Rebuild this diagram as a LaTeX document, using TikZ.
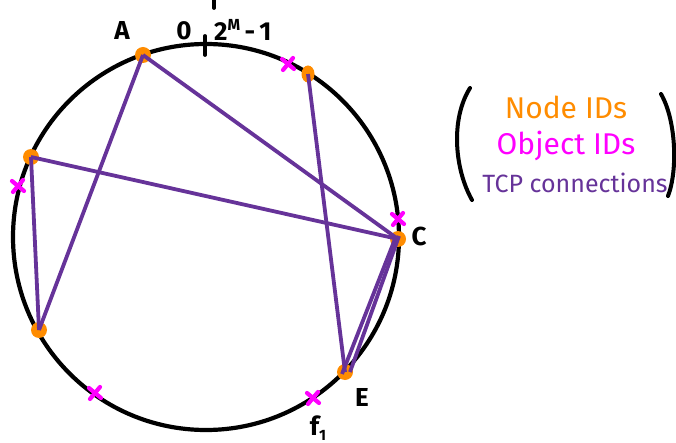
\documentclass[tikz,border=0pt]{standalone}
\usepackage{fontspec}
\usetikzlibrary{shapes.geometric}
\setmainfont{Fira Sans}
\definecolor{nodeor}{HTML}{FF8C00}
\definecolor{objmag}{HTML}{FF00FF}
\definecolor{tcppur}{HTML}{663399}
\begin{document}
\begin{tikzpicture}[x=1pt,y=-1pt,
  ring/.style={draw=black,line width=4.2pt},
  peer/.style={circle,fill=nodeor,inner sep=0pt,minimum size=16pt},
  conn/.style={draw=tcppur,line width=3.8pt},
  objx/.style={draw=objmag,line width=4.2pt,line cap=round},
  lbl/.style={font=\fontsize{26}{28}\selectfont\bfseries,inner sep=0pt},
  legend/.style={font=\fontsize{30}{32}\selectfont,inner sep=0pt}]
\useasboundingbox (0,0) rectangle (676,443);
% ring
\coordinate (ctr) at (206,237);
\draw[ring] (ctr) circle[radius=193];
% tick at 0 / 2^M-1
\coordinate (t1) at (205,36);
\coordinate (t2) at (205,55);
\draw[line width=3.8pt,line cap=round] (t1) -- (t2);
\coordinate (t3) at (214,0);
\coordinate (t4) at (214,8);
\draw[line width=3.8pt,line cap=round] (t3) -- (t4);
% peers
\node[peer] (A) at (143,55) {};
\node[fill=nodeor,inner sep=0pt,ellipse,minimum width=13pt,minimum height=17pt] (B) at (308,74) {};
\node[peer] (L1) at (31,157) {};
\node[peer] (C) at (398,239) {};
\node[peer] (L2) at (39,330) {};
\node[peer] (E) at (345,372) {};
% connections
\draw[conn] (A.center) -- (L2.center);
\draw[conn] (A.center) -- (C.center);
\draw[conn] (L1.center) -- (C.center);
\draw[conn] (L1.center) -- (L2.center);
\draw[conn] (B.center) -- (E.center);
\draw[conn] ([xshift=-3pt]C.center) -- ([xshift=-3pt,yshift=-2pt]E.center);
\draw[conn] ([xshift=1pt,yshift=3pt]C.center) -- ([xshift=5pt]E.center);
% object ids
\foreach \x/\y [count=\i] in {288/64, 18/186, 398/219, 95/393, 313/398}{
  \coordinate (o\i) at (\x,\y);
  \draw[objx] ([shift={(-5pt,-6pt)}]o\i) -- ([shift={(5pt,6pt)}]o\i);
  \draw[objx] ([shift={(6pt,-5pt)}]o\i) -- ([shift={(-6pt,5pt)}]o\i);
}
% labels
\node[lbl] (la) at (122,30) {A};
\node[lbl] (l0) at (184,31) {0};
\node[lbl,anchor=west] (lm) at (214,30) {2\raisebox{10pt}{\fontsize{16}{17}\selectfont\bfseries M}\,-\,1};
\node[lbl] (lc) at (419,236) {C};
\node[lbl] (le) at (362,397) {E};
\node[lbl] (lf) at (318,428) {f\raisebox{-5pt}{\fontsize{15}{16}\selectfont\bfseries 1}};
% legend
\node[legend,text=nodeor] (n1) at (566,107) {Node IDs};
\node[legend,text=objmag] (n2) at (566,146) {Object IDs};
\node[legend,text=tcppur,font=\fontsize{25}{27}\selectfont] (n3) at (575,183) {TCP connections};
\coordinate (pl1) at (470,88);
\coordinate (pl2) at (472,200);
\draw[line width=4pt,line cap=round] (pl1) .. controls (450,120) and (455,170) .. (pl2);
\coordinate (pr1) at (661,94);
\coordinate (pr2) at (668,196);
\draw[line width=4pt,line cap=round] (pr1) .. controls (676,120) and (678,170) .. (pr2);
\end{tikzpicture}
\end{document}
